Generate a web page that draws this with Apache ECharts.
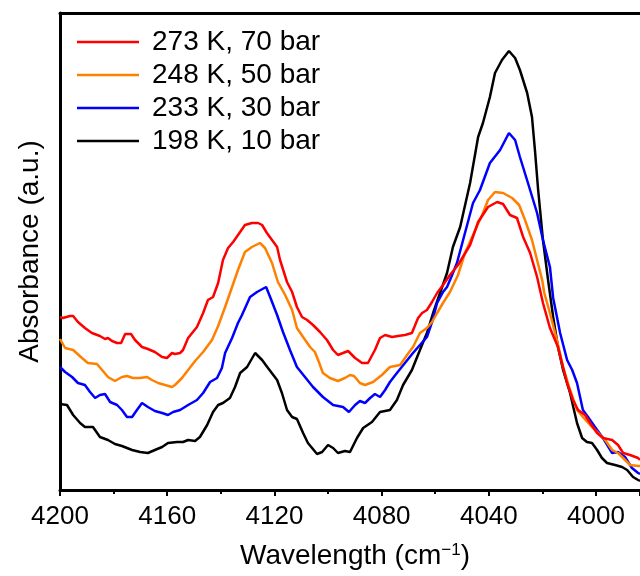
<!DOCTYPE html>
<html>
<head>
<meta charset="utf-8">
<script src="https://cdn.jsdelivr.net/npm/echarts@6/dist/echarts.min.js"></script>
<style>
html, body { margin: 0; padding: 0; background: #fff; }
#main { width: 640px; height: 576px; }
</style>
</head>
<body>
<div id="main"></div>
<script>
// series names (legend order)
var names = ['273 K, 70 bar', '248 K, 50 bar', '233 K, 30 bar', '198 K, 10 bar'];

// [wavenumber (cm-1), absorbance (a.u.)]
var s273 = [
	[4200.0,0.173],[4198.9,0.172],[4196.3,0.174],[4195.1,0.174],[4193.3,0.168],[4190.7,0.162],
	[4188.1,0.157],[4185.1,0.154],[4183.2,0.151],[4182.1,0.152],[4180.6,0.149],[4178.7,0.147],
	[4177.2,0.147],[4175.7,0.156],[4173.5,0.156],[4172.0,0.150],[4169.4,0.143],[4167.2,0.141],
	[4164.6,0.138],[4161.9,0.133],[4160.1,0.132],[4158.2,0.137],[4157.1,0.136],[4155.2,0.137],
	[4154.1,0.140],[4152.2,0.152],[4148.9,0.163],[4146.6,0.177],[4144.8,0.190],[4142.9,0.193],
	[4141.0,0.207],[4139.2,0.230],[4137.3,0.242],[4135.4,0.248],[4132.8,0.258],[4131.0,0.265],
	[4128.4,0.267],[4126.1,0.267],[4124.6,0.265],[4122.8,0.257],[4120.9,0.250],[4119.0,0.243],
	[4117.9,0.230],[4115.3,0.208],[4113.4,0.198],[4111.6,0.183],[4109.7,0.173],[4107.8,0.170],
	[4105.6,0.165],[4103.0,0.158],[4100.4,0.150],[4098.1,0.140],[4096.3,0.135],[4094.4,0.137],
	[4092.5,0.139],[4089.9,0.132],[4087.3,0.127],[4085.1,0.127],[4082.5,0.140],[4080.6,0.152],
	[4078.7,0.155],[4076.1,0.153],[4073.9,0.154],[4071.3,0.155],[4068.7,0.157],[4066.4,0.172],
	[4064.9,0.177],[4063.1,0.180],[4061.2,0.188],[4059.3,0.197],[4057.1,0.205],[4054.5,0.215],
	[4051.5,0.225],[4047.0,0.245],[4044.0,0.268],[4040.3,0.283],[4036.9,0.288],[4034.7,0.286],
	[4032.1,0.275],[4029.5,0.272],[4027.2,0.253],[4024.6,0.237],[4022.0,0.213],[4019.8,0.187],
	[4017.2,0.162],[4014.2,0.143],[4010.8,0.107],[4008.6,0.090],[4006.7,0.080],[4004.1,0.075],
	[4002.2,0.067],[3999.6,0.057],[3997.4,0.052],[3994.0,0.050],[3991.8,0.045],[3989.9,0.037],
	[3987.3,0.035],[3984.3,0.032],[3983.6,0.030]
];
var s248 = [
	[4200.0,0.151],[4198.1,0.142],[4195.1,0.140],[4191.8,0.132],[4189.6,0.127],[4186.2,0.126],
	[4184.3,0.120],[4182.1,0.113],[4179.5,0.109],[4176.9,0.113],[4175.0,0.114],[4172.8,0.112],
	[4170.1,0.112],[4167.5,0.113],[4165.7,0.110],[4163.4,0.107],[4160.8,0.105],[4158.2,0.103],
	[4157.1,0.105],[4154.5,0.112],[4152.2,0.120],[4149.6,0.129],[4146.6,0.138],[4143.3,0.150],
	[4141.0,0.164],[4138.4,0.183],[4135.8,0.203],[4133.6,0.220],[4131.0,0.238],[4128.4,0.243],
	[4125.4,0.247],[4123.5,0.242],[4120.9,0.227],[4118.7,0.208],[4116.0,0.195],[4113.4,0.180],
	[4111.6,0.162],[4109.3,0.153],[4106.7,0.143],[4104.9,0.138],[4103.7,0.130],[4101.9,0.117],
	[4099.3,0.112],[4096.3,0.109],[4093.7,0.112],[4091.8,0.115],[4090.3,0.114],[4088.1,0.107],
	[4086.2,0.105],[4083.2,0.108],[4079.9,0.115],[4076.9,0.123],[4073.1,0.125],[4070.5,0.135],
	[4068.3,0.143],[4065.7,0.157],[4063.1,0.162],[4061.2,0.168],[4059.3,0.177],[4057.1,0.187],
	[4054.5,0.198],[4051.5,0.215],[4048.9,0.237],[4045.9,0.255],[4042.5,0.275],[4040.3,0.290],
	[4037.7,0.298],[4034.7,0.297],[4031.3,0.292],[4028.7,0.285],[4026.5,0.270],[4023.9,0.250],
	[4022.0,0.230],[4020.1,0.210],[4019.3,0.197],[4017.2,0.177],[4014.6,0.150],[4012.3,0.123],
	[4009.7,0.100],[4007.1,0.080],[4004.9,0.073],[4002.2,0.065],[3999.6,0.058],[3996.6,0.050],
	[3994.0,0.040],[3991.8,0.037],[3989.9,0.032],[3987.3,0.025],[3984.3,0.024],[3983.6,0.024]
];
var s233 = [
	[4200.0,0.123],[4198.1,0.118],[4195.5,0.113],[4193.3,0.107],[4190.7,0.105],[4188.8,0.098],
	[4186.9,0.092],[4185.1,0.095],[4183.2,0.096],[4181.3,0.088],[4178.7,0.085],[4176.9,0.080],
	[4175.0,0.073],[4173.1,0.073],[4171.3,0.080],[4169.4,0.087],[4167.2,0.083],[4164.6,0.079],
	[4161.9,0.077],[4159.7,0.075],[4157.8,0.078],[4155.2,0.080],[4152.2,0.085],[4148.9,0.090],
	[4146.6,0.097],[4144.0,0.108],[4141.4,0.112],[4139.6,0.122],[4138.4,0.137],[4135.8,0.152],
	[4133.6,0.167],[4132.1,0.175],[4129.1,0.193],[4126.5,0.198],[4123.1,0.203],[4121.6,0.193],
	[4119.0,0.175],[4116.8,0.158],[4114.2,0.140],[4111.6,0.123],[4108.6,0.113],[4105.6,0.103],
	[4101.9,0.093],[4098.1,0.085],[4094.4,0.083],[4092.2,0.078],[4089.9,0.085],[4088.1,0.089],
	[4086.2,0.087],[4084.3,0.092],[4082.5,0.096],[4080.6,0.093],[4078.7,0.100],[4076.9,0.108],
	[4074.3,0.117],[4071.3,0.127],[4068.3,0.137],[4065.7,0.145],[4063.1,0.153],[4061.2,0.168],
	[4059.3,0.187],[4057.1,0.198],[4055.6,0.203],[4053.7,0.215],[4051.9,0.227],[4049.6,0.250],
	[4045.9,0.287],[4043.3,0.300],[4039.6,0.327],[4035.8,0.340],[4032.5,0.357],[4030.2,0.350],
	[4028.4,0.333],[4025.4,0.307],[4022.0,0.277],[4019.8,0.250],[4017.2,0.223],[4016.0,0.192],
	[4013.4,0.157],[4010.8,0.130],[4008.9,0.120],[4007.1,0.107],[4004.9,0.080],[4003.0,0.073],
	[4000.4,0.063],[3997.4,0.052],[3994.0,0.037],[3991.8,0.038],[3989.2,0.033],[3986.6,0.022],
	[3984.3,0.017],[3983.6,0.016]
];
var s198 = [
	[4200.0,0.086],[4197.4,0.085],[4195.1,0.075],[4192.5,0.067],[4190.7,0.063],[4187.7,0.063],
	[4185.1,0.053],[4182.1,0.050],[4179.5,0.046],[4176.9,0.044],[4173.1,0.040],[4170.1,0.038],
	[4167.2,0.037],[4164.6,0.040],[4161.9,0.043],[4159.7,0.047],[4156.3,0.048],[4154.1,0.048],
	[4152.2,0.050],[4149.6,0.049],[4147.8,0.053],[4145.1,0.065],[4142.9,0.078],[4141.0,0.085],
	[4139.2,0.087],[4136.6,0.092],[4134.7,0.103],[4132.8,0.117],[4130.2,0.123],[4127.2,0.137],
	[4124.6,0.130],[4122.4,0.122],[4119.0,0.110],[4117.2,0.097],[4115.3,0.080],[4113.4,0.073],
	[4111.6,0.071],[4109.3,0.057],[4107.5,0.047],[4104.1,0.036],[4102.2,0.038],[4100.0,0.045],
	[4098.1,0.042],[4096.3,0.037],[4093.7,0.039],[4091.8,0.038],[4089.2,0.052],[4086.9,0.062],
	[4083.6,0.068],[4080.6,0.078],[4076.9,0.080],[4074.3,0.090],[4072.0,0.105],[4068.7,0.120],
	[4065.7,0.140],[4063.1,0.157],[4060.8,0.177],[4058.2,0.197],[4055.6,0.217],[4053.4,0.243],
	[4050.7,0.263],[4047.0,0.307],[4044.0,0.353],[4042.2,0.367],[4039.6,0.393],[4037.7,0.417],
	[4035.1,0.430],[4032.5,0.439],[4030.2,0.432],[4028.4,0.420],[4025.7,0.397],[4023.9,0.373],
	[4022.8,0.340],[4021.6,0.300],[4019.8,0.250],[4017.9,0.210],[4016.0,0.173],[4014.2,0.143],
	[4012.3,0.120],[4009.7,0.097],[4007.1,0.067],[4005.2,0.052],[4003.4,0.048],[4001.5,0.047],
	[3999.6,0.040],[3997.8,0.032],[3995.9,0.027],[3992.9,0.025],[3990.3,0.023],[3988.4,0.020],
	[3986.2,0.013],[3984.3,0.010],[3983.6,0.009]
];

// axis range
var xMin = 4200, xMax = 3983.6, xStep = 40;
var yMin = 0, yMax = 0.477;

// x axis runs high -> low, so plot on -wavenumber
function flip(arr) {
	return arr.map(function (p) { return [-p[0], p[1]]; });
}

var myChart = echarts.init(document.getElementById('main'));
var font = '"Liberation Sans", Arial, sans-serif';

var option = {
	animation: false,
	backgroundColor: '#fff',
	grid: { left: 60, top: 13, right: 0, bottom: 86, containLabel: false },
	legend: {
		show: true,
		data: names,
		orient: 'vertical',
		left: 72,
		top: 23,
		padding: 5,
		icon: 'rect',
		itemWidth: 62,
		itemHeight: 2.5,
		itemGap: 5,
		textStyle: { fontFamily: font, fontSize: 28, color: '#000', lineHeight: 28, padding: [0, 0, 0, 8] }
	},
	xAxis: [{
		type: 'value',
		min: -xMin,
		max: -xMax,
		interval: xStep,
		name: 'Wavelength (cm{sup|\u22121})',
		nameLocation: 'middle',
		nameGap: 52,
		nameTextStyle: {
			fontFamily: font, fontSize: 28, color: '#000', padding: [0, 0, 0, 10],
			rich: { sup: { fontFamily: font, fontSize: 17, color: '#000', verticalAlign: 'top', padding: [0, 0, 12, 0] } }
		},
		axisLine: { show: true, onZero: false, lineStyle: { color: '#000', width: 3 } },
		axisTick: { show: true, length: 6, lineStyle: { color: '#000', width: 2 } },
		minorTick: { show: true, splitNumber: 2, length: 4, lineStyle: { color: '#000', width: 2 } },
		axisLabel: {
			fontFamily: font, fontSize: 26, color: '#000', margin: 14, showMaxLabel: false,
			formatter: function (v) { return String(-v); }
		},
		splitLine: { show: false }
	}, {
		type: 'value',
		position: 'top',
		min: -xMin,
		max: -xMax,
		axisLine: { show: true, onZero: false, lineStyle: { color: '#000', width: 3 } },
		axisTick: { show: false },
		axisLabel: { show: false },
		splitLine: { show: false }
	}],
	yAxis: {
		type: 'value',
		min: yMin,
		max: yMax,
		name: 'Absorbance (a.u.)',
		nameLocation: 'middle',
		nameGap: 16,
		nameTextStyle: { fontFamily: font, fontSize: 28, color: '#000' },
		axisLine: { show: true, onZero: false, lineStyle: { color: '#000', width: 3 } },
		axisTick: { show: false },
		axisLabel: { show: false },
		splitLine: { show: false }
	},
	series: [
		{ name: names[3], type: 'line', data: flip(s198), symbol: 'none', color: '#000000', lineStyle: { width: 2.5 } },
		{ name: names[2], type: 'line', data: flip(s233), symbol: 'none', color: '#0000ff', lineStyle: { width: 2.5 } },
		{ name: names[1], type: 'line', data: flip(s248), symbol: 'none', color: '#ff8000', lineStyle: { width: 2.5 } },
		{ name: names[0], type: 'line', data: flip(s273), symbol: 'none', color: '#ff0000', lineStyle: { width: 2.5 } }
	]
};
myChart.setOption(option);
</script>
</body>
</html>
